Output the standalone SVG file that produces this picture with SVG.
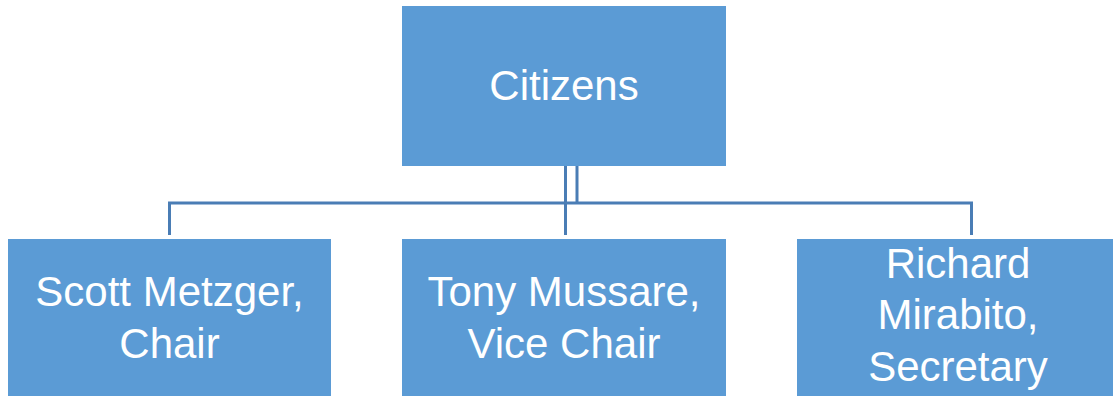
<svg xmlns="http://www.w3.org/2000/svg" width="1113" height="396" viewBox="0 0 1113 396">
<style>
.box{fill:#5B9BD5;}
.lbl{font-family:"Liberation Sans",Arial,sans-serif;font-size:42px;fill:#FFFFFF;text-anchor:middle;}
.conn{stroke:#4A7DB5;stroke-width:3;fill:none;}
</style>
<rect width="1113" height="396" fill="#FFFFFF"/>
<g id="connectors">
<path class="conn" d="M565.5 166 V235"/>
<path class="conn" d="M577 166 V203"/>
<path class="conn" d="M169.5 235 V203 H971.5 V235"/>
</g>
<g id="citizens">
<rect class="box" x="402" y="6" width="324" height="160"/>
<text class="lbl" x="564" y="100">Citizens</text>
</g>
<g id="scott">
<rect class="box" x="8" y="239" width="323" height="170"/>
<text class="lbl" x="169.5" y="306">Scott Metzger,</text>
<text class="lbl" x="169.5" y="358">Chair</text>
</g>
<g id="tony">
<rect class="box" x="402" y="239" width="324" height="170"/>
<text class="lbl" x="564" y="306">Tony Mussare,</text>
<text class="lbl" x="564" y="358">Vice Chair</text>
</g>
<g id="richard">
<rect class="box" x="797" y="239" width="330" height="170"/>
<text class="lbl" x="958" y="278">Richard</text>
<text class="lbl" x="958" y="329">Mirabito,</text>
<text class="lbl" x="958" y="381">Secretary</text>
</g>
</svg>
